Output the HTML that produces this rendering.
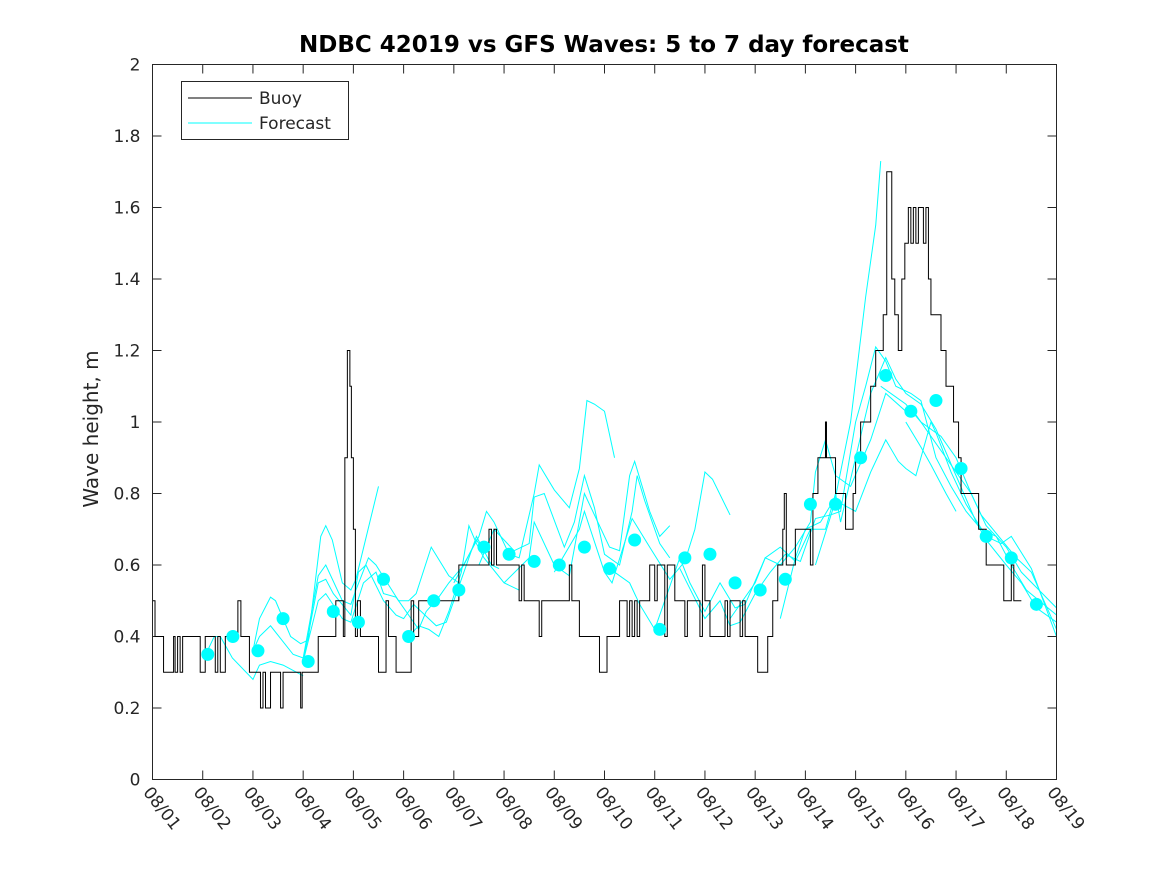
<!DOCTYPE html>
<html><head><meta charset="utf-8"><style>
body{margin:0;background:#fff;}
svg text{font-family:"DejaVu Sans","Liberation Sans",sans-serif;fill:#262626;}
</style></head><body>
<svg id="chart" width="1167" height="875" xmlns="http://www.w3.org/2000/svg">
<rect width="1167" height="875" fill="#fff"/>
<text x="604" y="52" text-anchor="middle" font-size="23" font-weight="bold" style="fill:#000">NDBC 42019 vs GFS Waves: 5 to 7 day forecast</text>
<text transform="translate(98,429) rotate(-90)" text-anchor="middle" font-size="20">Wave height, m</text>
<g id="grid"></g>
<g id="series"></g>
<rect x="152.5" y="64.5" width="904" height="715" fill="none" stroke="#262626" stroke-width="1"/>
<g id="legend">
<rect x="181.5" y="81.5" width="167" height="58" fill="#fff" stroke="#262626"/>
<line x1="188" y1="98" x2="252" y2="98" stroke="#000"/>
<text x="259" y="104" font-size="17">Buoy</text>
<line x1="188" y1="123" x2="252" y2="123" stroke="#00ffff"/>
<text x="259" y="129" font-size="17">Forecast</text>
</g>
</svg>
<script>
const xTickLabels=["08/01","08/02","08/03","08/04","08/05","08/06","08/07","08/08","08/09","08/10","08/11","08/12","08/13","08/14","08/15","08/16","08/17","08/18","08/19"];
const yTicks=[0,0.2,0.4,0.6,0.8,1,1.2,1.4,1.6,1.8,2];
const yTickLabels=["0","0.2","0.4","0.6","0.8","1","1.2","1.4","1.6","1.8","2"];
const buoySteps=[[0,0.5],[0.05,0.4],[0.22,0.3],[0.42,0.4],[0.45,0.3],[0.5,0.4],[0.55,0.3],[0.6,0.4],[0.95,0.3],[1.05,0.4],[1.25,0.3],[1.3,0.4],[1.35,0.3],[1.45,0.4],[1.7,0.5],[1.76,0.4],[1.93,0.3],[2.15,0.2],[2.2,0.3],[2.25,0.2],[2.35,0.3],[2.55,0.2],[2.6,0.3],[2.95,0.2],[2.98,0.3],[3.3,0.4],[3.65,0.5],[3.8,0.4],[3.83,0.9],[3.88,1.2],[3.93,1.1],[3.96,0.9],[4.0,0.7],[4.04,0.4],[4.08,0.5],[4.14,0.4],[4.5,0.3],[4.65,0.5],[4.7,0.4],[4.85,0.3],[5.15,0.5],[5.2,0.4],[5.3,0.5],[6.1,0.6],[6.7,0.7],[6.75,0.6],[6.8,0.7],[6.85,0.6],[7.3,0.5],[7.35,0.6],[7.4,0.5],[7.7,0.4],[7.75,0.5],[8.3,0.6],[8.35,0.5],[8.5,0.4],[8.9,0.3],[9.05,0.4],[9.3,0.5],[9.45,0.4],[9.5,0.5],[9.55,0.4],[9.6,0.5],[9.65,0.4],[9.7,0.5],[9.9,0.6],[10.0,0.5],[10.05,0.6],[10.2,0.4],[10.25,0.6],[10.4,0.5],[10.6,0.4],[10.65,0.5],[10.9,0.4],[10.95,0.6],[11.0,0.5],[11.1,0.4],[11.4,0.5],[11.45,0.4],[11.5,0.5],[11.7,0.4],[11.75,0.5],[11.8,0.4],[12.05,0.3],[12.25,0.4],[12.35,0.5],[12.45,0.6],[12.55,0.7],[12.58,0.8],[12.62,0.6],[12.8,0.7],[13.1,0.6],[13.15,0.8],[13.25,0.9],[13.4,1.0],[13.42,0.9],[13.6,0.8],[13.8,0.7],[13.95,0.8],[14.0,0.9],[14.1,1.0],[14.3,1.1],[14.4,1.2],[14.55,1.3],[14.62,1.7],[14.72,1.4],[14.78,1.3],[14.85,1.2],[14.92,1.4],[14.98,1.5],[15.05,1.6],[15.1,1.5],[15.15,1.6],[15.2,1.5],[15.25,1.6],[15.35,1.5],[15.4,1.6],[15.45,1.4],[15.5,1.3],[15.7,1.2],[15.8,1.1],[15.95,1.0],[16.05,0.9],[16.1,0.8],[16.35,0.8],[16.45,0.7],[16.6,0.6],[16.95,0.5],[17.1,0.6],[17.15,0.5],[17.3,0.5]];
const forecastRuns=[
[[1.06,.35],[1.23,.40],[1.35,.40],[1.59,.34],[2.0,.28],[2.13,.32],[2.35,.33],[2.6,.32],[3.0,.29]],
[[2.0,.36],[2.13,.45],[2.35,.51],[2.45,.50],[2.75,.40],[2.95,.38],[3.1,.39],[3.35,.68],[3.45,.71],[3.58,.67],[3.78,.55],[3.95,.53],[4.05,.56],[4.5,.82]],
[[2.0,.36],[2.13,.40],[2.35,.43],[2.8,.35],[3.0,.34],[3.3,.57],[3.45,.60],[3.78,.50],[3.95,.49],[4.05,.53],[4.3,.62],[4.45,.60],[4.9,.50],[5.1,.50],[5.25,.52],[5.55,.65],[5.9,.57],[6.1,.55]],
[[3.0,.33],[3.3,.55],[3.45,.56],[3.6,.52],[3.95,.46],[4.1,.58],[4.25,.60],[4.6,.50],[4.85,.46],[5.0,.45],[5.2,.49],[5.5,.45],[5.65,.43],[5.85,.44],[6.2,.58],[6.45,.68],[6.6,.64],[6.75,.60],[6.9,.59]],
[[3.0,.33],[3.3,.50],[3.45,.52],[3.78,.45],[3.95,.44],[4.2,.55],[4.45,.58],[4.6,.52],[4.85,.51],[5.3,.42],[5.45,.47],[5.7,.51],[5.9,.55],[6.2,.60],[6.45,.67],[6.6,.64]],
[[5.1,.40],[5.3,.43],[5.5,.42],[5.7,.40],[5.9,.47],[6.15,.58],[6.3,.71],[6.45,.66],[6.6,.62],[7.0,.55],[7.3,.53]],
[[6.0,.55],[6.5,.68],[6.65,.75],[6.8,.72],[7.1,.63],[7.3,.62],[7.6,.80],[7.7,.88],[8.0,.81],[8.3,.76],[8.5,.87],[8.65,1.06],[8.8,1.05],[9.0,1.03],[9.2,.90]],
[[6.5,.60],[6.8,.70],[7.2,.64],[7.5,.66],[7.6,.79],[7.8,.80],[8.2,.65],[8.4,.72],[8.6,.85],[8.8,.76],[9.0,.63],[9.3,.60],[9.55,.75],[9.65,.85],[9.8,.78],[10.1,.66],[10.3,.62]],
[[7.0,.55],[7.5,.62],[7.6,.72],[8.0,.60],[8.3,.57],[8.6,.80],[9.1,.65],[9.3,.64],[9.5,.85],[9.6,.89],[9.9,.75],[10.1,.68],[10.3,.71]],
[[8.0,.58],[8.5,.70],[8.6,.75],[9.0,.58],[9.15,.55],[9.55,.73],[9.9,.65],[10.3,.56],[10.6,.61],[10.8,.70],[11.0,.86],[11.15,.84],[11.5,.74]],
[[9.1,.59],[9.5,.55],[9.7,.49],[10.0,.42],[10.5,.62],[10.7,.55],[11.0,.47],[11.3,.55],[11.6,.48],[11.8,.49],[12.2,.62],[12.5,.65],[12.8,.61],[13.1,.70],[13.4,.70],[13.6,.80],[13.7,.72],[14.0,.90],[14.3,1.08],[14.6,1.18],[14.8,1.12],[15.0,1.08],[15.3,1.05],[15.6,.98],[16.0,.85],[16.4,.72],[16.6,.67],[17.0,.60],[17.3,.55],[17.6,.48],[18.0,.44]],
[[10.5,.59],[11.0,.45],[11.3,.50],[11.5,.43],[11.7,.44],[12.0,.52],[12.3,.58],[12.6,.63],[12.9,.61],[13.2,.73],[13.5,.74],[13.7,.75],[14.0,1.0],[14.2,1.1],[14.4,1.21],[14.6,1.17],[14.8,1.10],[15.1,1.08],[15.3,1.06],[15.6,.90],[15.9,.82],[16.2,.75],[16.5,.70],[16.8,.68],[17.1,.60],[17.4,.53],[18.0,.46]],
[[11.5,.45],[12.0,.55],[12.2,.62],[12.5,.60],[12.8,.65],[13.1,.72],[13.2,.86],[13.4,.95],[13.6,.85],[13.9,.82],[14.3,.95],[14.6,1.08],[15.0,1.03],[15.2,1.02],[15.5,.96],[15.9,.88],[16.3,.80],[16.5,.74],[17.2,.62],[17.5,.58],[18.0,.42]],
[[12.5,.45],[12.8,.62],[13.0,.70],[13.3,.72],[13.6,.79],[13.9,1.0],[14.2,1.35],[14.4,1.55],[14.5,1.73]],
[[13.2,.60],[13.6,.78],[14.0,.75],[14.3,.86],[14.6,.95],[14.85,.89],[15.0,.87],[15.2,.85],[15.5,1.00],[15.6,.97],[15.9,.86],[16.2,.77],[16.6,.68],[16.9,.66],[17.1,.68],[17.5,.59],[18.0,.40]],
[[14.5,1.10],[15.0,1.05],[15.3,1.00],[15.7,.96],[16.0,.90],[16.3,.80],[16.6,.71],[17.0,.65],[17.3,.58],[18.0,.48]],
[[15.0,1.0],[15.3,.93],[15.5,.88],[15.8,.80],[16.0,.75]]
];
const dotDays=[1.1,1.6,2.1,2.6,3.1,3.6,4.1,4.6,5.1,5.6,6.1,6.6,7.1,7.6,8.1,8.6,9.1,9.6,10.1,10.6,11.1,11.6,12.1,12.6,13.1,13.6,14.1,14.6,15.1,15.6,16.1,16.6,17.1,17.6];
const dotValues=[0.35,0.40,0.36,0.45,0.33,0.47,0.44,0.56,0.40,0.50,0.53,0.65,0.63,0.61,0.60,0.65,0.59,0.67,0.42,0.62,0.63,0.55,0.53,0.56,0.77,0.77,0.90,1.13,1.03,1.06,0.87,0.68,0.62,0.49];

const NS="http://www.w3.org/2000/svg";
const X0=152.5,X1=1056.5,Y0=779.5,Y1=64.5;
const xs=d=>X0+(d/18)*(X1-X0);
const ys=v=>Y0-(v/2)*(Y0-Y1);
const grid=document.getElementById('grid'),series=document.getElementById('series');
function mk(tag,attrs,parent){const e=document.createElementNS(NS,tag);for(const k in attrs)e.setAttribute(k,attrs[k]);parent.appendChild(e);return e;}

yTicks.forEach((v,i)=>{
  const y=ys(v);
  const t1=mk('line',{x1:X0,y1:y,x2:X0+9,y2:y,stroke:'#262626'},grid);
  
  
  mk('line',{x1:X1,y1:y,x2:X1-9,y2:y,stroke:'#262626'},grid);
  const tx=mk('text',{x:X0-12,y:y+6,'text-anchor':'end','font-size':17},grid);
  tx.textContent=yTickLabels[i];
  
  
});
xTickLabels.forEach((lab,i)=>{
  const x=xs(i);
  const t1=mk('line',{x1:x,y1:Y0,x2:x,y2:Y0-9,stroke:'#262626'},grid);
  
  
  mk('line',{x1:x,y1:Y1,x2:x,y2:Y1+9,stroke:'#262626'},grid);
  const tx=mk('text',{x:0,y:0,'font-size':17,transform:`translate(${x-10},${Y0+13}) rotate(52)`},grid);
  tx.textContent=lab;
  
  
});

forecastRuns.forEach(run=>{
  const p=mk('polyline',{points:run.map(q=>xs(q[0])+','+ys(q[1])).join(' '),fill:'none',stroke:'#00ffff','stroke-width':1},series);
  
  
});
let pts=[];
for(let i=0;i<buoySteps.length;i++){
  const [d,v]=buoySteps[i];
  if(i>0)pts.push(xs(d)+','+ys(buoySteps[i-1][1]));
  pts.push(xs(d)+','+ys(v));
}
const bl=mk('polyline',{points:pts.join(' '),fill:'none',stroke:'#000','stroke-width':1},series);


dotDays.forEach((d,i)=>{
  const c=mk('circle',{cx:xs(d),cy:ys(dotValues[i]),r:6.5,fill:'#00ffff'},series);
  
  
});
</script>
</body></html>
